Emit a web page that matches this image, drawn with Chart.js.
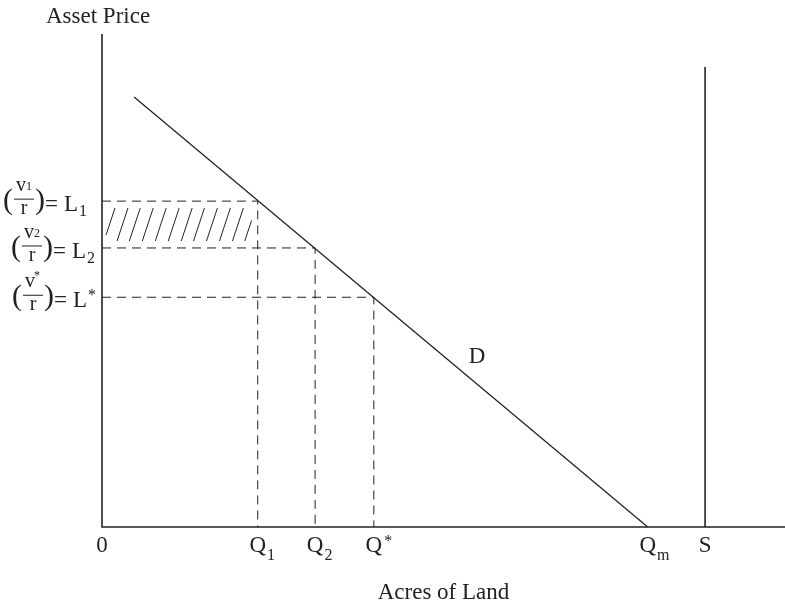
<!DOCTYPE html>
<html>
<head>
<meta charset="utf-8">
<script src="https://cdn.jsdelivr.net/npm/chart.js@4.4.0/dist/chart.umd.min.js"></script>
<style>
  html, body { margin: 0; padding: 0; background: #fff; }
  #wrap { width: 785px; height: 605px; position: relative; }
</style>
</head>
<body>
<div id="wrap"><canvas id="myChart"></canvas></div>
<script>
// Values (both axes in arbitrary units, 0-100)
const qValues = [22.8, 31.2, 39.8];          // Q1, Q2, Q*
const lValues = [66.1, 56.6, 46.6];          // L1, L2, L*
const qm = 79.9;                              // demand hits the x axis
const sQuantity = 88.3;                       // fixed supply S
const sTop = 93.3;
const demandStart = [4.7, 87.2];              // x, y

// tick labels
const xTicks = [0, 22.8, 31.2, 39.8, 79.9, 88.3];
const xTickText = ['0', 'Q', 'Q', 'Q', 'Q', 'S'];
const xTickSub = ['', '1', '2', '', 'm', ''];
const xTickSup = ['', '', '', '*', '', ''];
const yTickSub = ['1', '2', ''];
const yTickSup = ['', '', '*'];
const yLabelRight = [87, 95, 96];

// hatched area between L2 and L1, left of Q1
const hatchBases = [0.3, 2.2, 4.0, 5.9, 7.8, 9.7, 11.6, 13.4, 15.3, 17.2, 19.1, 20.9];
const hatchLow = 58.0;
const hatchHigh = 64.7;
const hatchSlant = 1.6;
const hatchMin = 0.6;
const hatchMax = 21.9;

const dLabel = [54.9, 34.9];

const ink = '#222';
const serif = "'Liberation Serif', 'DejaVu Serif', serif";
const font = size => size + 'px ' + serif;

// --- datasets ---
const datasets = [];

function line(data, opts) {
    datasets.push(Object.assign({
        data: data,
        showLine: true,
        borderColor: ink,
        borderWidth: 1.3,
        pointRadius: 0,
        fill: false,
        clip: false
    }, opts || {}));
}

// axes
line([{ x: 0, y: 100 }, { x: 0, y: 0 }, { x: 100, y: 0 }], { borderWidth: 1.6 });
// demand D
line([{ x: demandStart[0], y: demandStart[1] }, { x: qm, y: 0 }], { borderWidth: 1.3 });
// supply S
line([{ x: sQuantity, y: 0 }, { x: sQuantity, y: sTop }], { borderWidth: 1.6 });

// dashed guides
for (let i = 0; i < qValues.length; i++) {
    line([{ x: 0, y: lValues[i] }, { x: qValues[i], y: lValues[i] }, { x: qValues[i], y: 0 }],
        { borderWidth: 1, borderDash: [9, 6] });
}

// hatch strokes
hatchBases.forEach(b => {
    let p0 = { x: b, y: hatchLow };
    let p1 = { x: b + hatchSlant, y: hatchHigh };
    if (p0.x < hatchMin) {
        const t = (hatchMin - b) / hatchSlant;
        p0 = { x: hatchMin, y: hatchLow + t * (hatchHigh - hatchLow) };
    }
    if (p1.x > hatchMax) {
        const t = (hatchMax - b) / hatchSlant;
        p1 = { x: hatchMax, y: hatchLow + t * (hatchHigh - hatchLow) };
    }
    line([p0, p1], { borderWidth: 1 });
});

// --- text drawn on top ---
function drawYLabel(ctx, right, yl, sub, sup) {
    const mark = sub || sup;
    ctx.font = font(30);
    const wParen = ctx.measureText('(').width;
    ctx.font = font(20);
    const wv = ctx.measureText('v').width;
    const wr = ctx.measureText('r').width;
    ctx.font = font(12);
    const wvs = ctx.measureText(mark).width;
    const wFrac = Math.max(wv + wvs, wr) + 6;
    ctx.font = font(23);
    const wEq = ctx.measureText('=').width;
    const wL = ctx.measureText('L').width;
    ctx.font = font(16);
    const wLs = ctx.measureText(mark).width;
    const total = wParen + wFrac + wParen + wEq + 6 + wL + 1 + wLs;

    let x = right - total;
    ctx.textAlign = 'left';
    ctx.font = font(30);
    ctx.fillText('(', x, yl + 8);
    x += wParen;
    // fraction
    ctx.font = font(20);
    const nx = x + (wFrac - wv - wvs) / 2;
    ctx.fillText('v', nx, yl - 10);
    ctx.font = font(12);
    if (sub) ctx.fillText(sub, nx + wv, yl - 11);
    if (sup) ctx.fillText(sup, nx + wv - 1, yl - 18);
    ctx.font = font(20);
    ctx.fillText('r', x + (wFrac - wr) / 2, yl + 13);
    ctx.beginPath();
    ctx.moveTo(x + 1, yl - 2);
    ctx.lineTo(x + wFrac - 1, yl - 2);
    ctx.lineWidth = 1;
    ctx.strokeStyle = ink;
    ctx.stroke();
    x += wFrac;
    ctx.font = font(30);
    ctx.fillText(')', x, yl + 8);
    x += wParen;
    ctx.font = font(23);
    ctx.fillText('=', x, yl + 10);
    x += wEq + 6;
    ctx.fillText('L', x, yl + 10);
    x += wL + 1;
    ctx.font = font(16);
    if (sub) ctx.fillText(sub, x, yl + 15);
    if (sup) ctx.fillText(sup, x, yl + 3);
}

const labelPlugin = {
    id: 'labels',
    afterDraw(chart) {
        const ctx = chart.ctx;
        const xs = chart.scales.x;
        const ys = chart.scales.y;
        const area = chart.chartArea;
        ctx.save();
        ctx.fillStyle = ink;
        ctx.textBaseline = 'alphabetic';

        // axis titles
        ctx.font = font(23);
        ctx.textAlign = 'left';
        ctx.fillText('Asset Price', area.left - 56, area.top - 11);
        ctx.textAlign = 'center';
        ctx.fillText('Acres of Land', (area.left + area.right) / 2, 599);

        // D
        ctx.fillText('D', xs.getPixelForValue(dLabel[0]), ys.getPixelForValue(dLabel[1]) + 8);

        // x ticks
        const base = area.bottom + 25;
        xTicks.forEach((v, i) => {
            const px = xs.getPixelForValue(v);
            ctx.font = font(23);
            ctx.textAlign = 'center';
            const w = ctx.measureText(xTickText[i]).width;
            ctx.fillText(xTickText[i], px, base);
            ctx.font = font(16);
            ctx.textAlign = 'left';
            if (xTickSub[i]) ctx.fillText(xTickSub[i], px + w / 2 + 1, base + 8);
            if (xTickSup[i]) ctx.fillText(xTickSup[i], px + w / 2 + 2, base - 6);
        });

        // y ticks
        lValues.forEach((v, i) => {
            drawYLabel(ctx, yLabelRight[i], ys.getPixelForValue(v), yTickSub[i], yTickSup[i]);
        });
        ctx.restore();
    }
};

new Chart(document.getElementById('myChart'), {
    type: 'scatter',
    data: { datasets: datasets },
    options: {
        responsive: true,
        maintainAspectRatio: false,
        animation: false,
        layout: { padding: { left: 102, top: 34, right: 0, bottom: 78 } },
        plugins: { legend: { display: false }, tooltip: { enabled: false } },
        scales: {
            x: { type: 'linear', min: 0, max: 100, display: false },
            y: { type: 'linear', min: 0, max: 100, display: false }
        }
    },
    plugins: [labelPlugin]
});
</script>
</body>
</html>
